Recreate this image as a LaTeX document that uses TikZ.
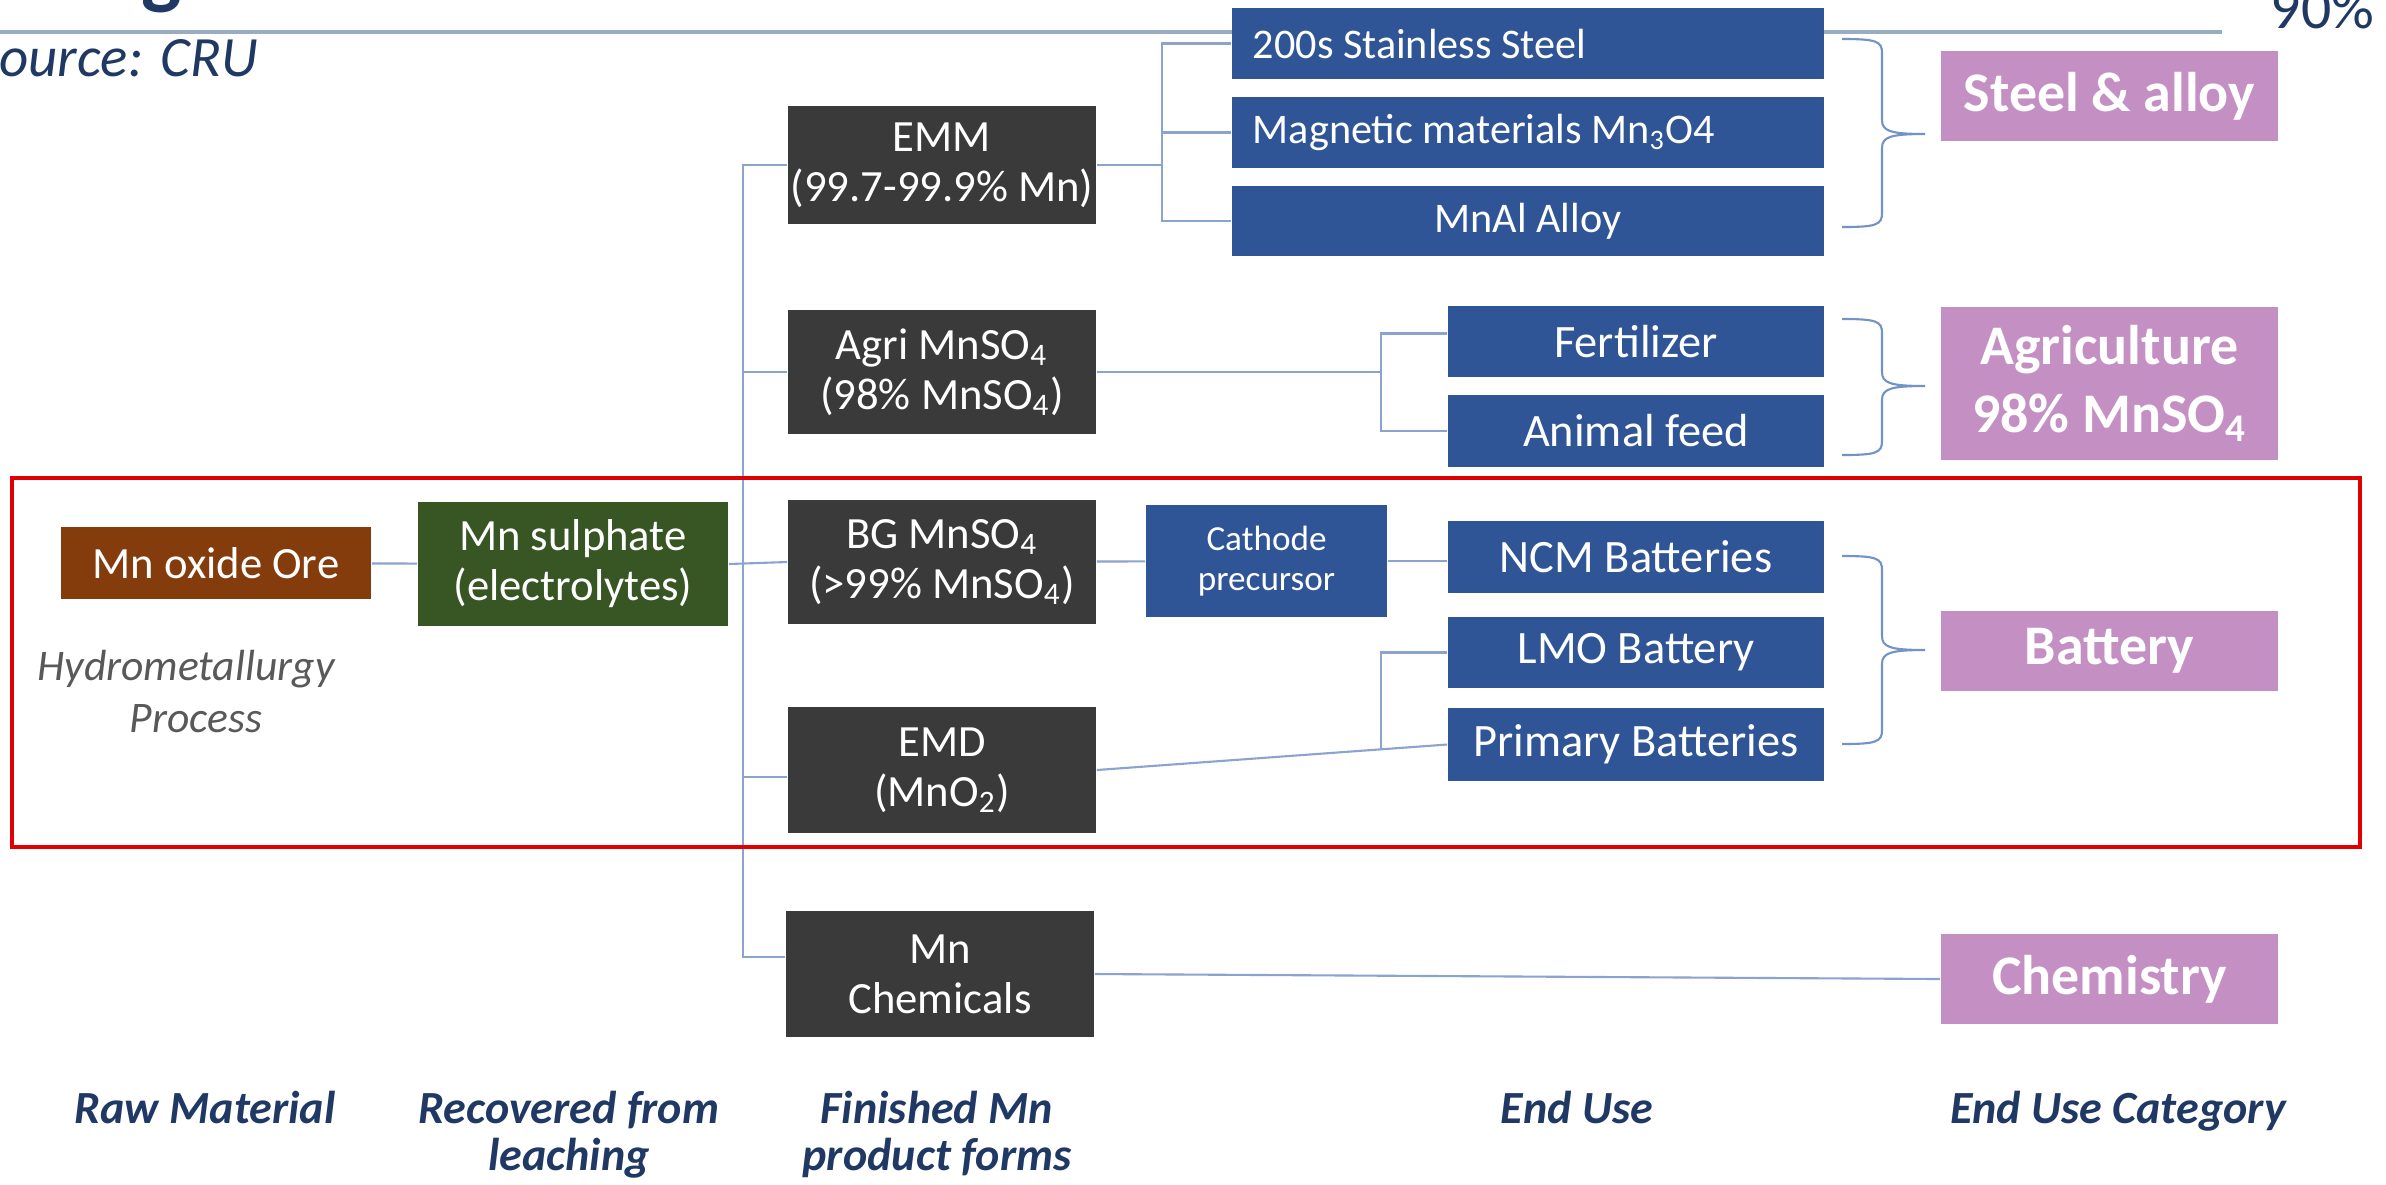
\documentclass[tikz,border=0pt]{standalone}
\usepackage{fontspec}
\setmainfont{Carlito}
\usetikzlibrary{calc}
\definecolor{boxgray}{HTML}{3A3A3A}
\definecolor{bluec}{HTML}{2F5597}
\definecolor{oreb}{HTML}{843C0C}
\definecolor{sulg}{HTML}{375623}
\definecolor{pinkc}{HTML}{C490C4}
\definecolor{connc}{HTML}{8AA4CF}
\definecolor{bracec}{HTML}{7393C4}
\definecolor{tline}{HTML}{9AACC4}
\definecolor{navy}{HTML}{1F3864}
\definecolor{hydc}{HTML}{595959}
\definecolor{redc}{HTML}{E00000}
\newcommand\fBox{\fontsize{12.7}{14.2}\selectfont}
\newcommand\fSteel{\fontsize{12}{14}\selectfont}
\newcommand\fEnd{\fontsize{13.2}{15}\selectfont}
\newcommand\fCath{\fontsize{10}{11.4}\selectfont}
\newcommand\fCat{\bfseries\fontsize{15.9}{19.3}\selectfont}
\newcommand\fLab{\bfseries\itshape\fontsize{13.1}{13.7}\selectfont}
\newcommand\fHyd{\itshape\fontsize{12.4}{14.8}\selectfont}
\newcommand\mybrace[6]{%
  \draw[bracec, line width=0.6pt]
    (#1,#4) .. controls (#2-6,#4) and (#2,#4+2) .. (#2,#4+14)
    -- (#2,#5-14) .. controls (#2,#5-3) and (#2+8,#5) .. (#3,#5)
    .. controls (#2+8,#5) and (#2,#5+3) .. (#2,#5+14)
    -- (#2,#6-14) .. controls (#2,#6-2) and (#2-6,#6) .. (#1,#6);}
\begin{document}
\begin{tikzpicture}[x=0.01cm,y=-0.01cm,
  conn/.style={draw=connc, line width=0.6pt},
  bx/.style={inner sep=0pt, align=flush center, text=white, font=\fBox},
  gbox/.style={bx, fill=boxgray, minimum width=3.08cm, minimum height=1.24cm},
  bbox/.style={bx, fill=bluec},
  ebox/.style={bbox, font=\fEnd, minimum width=3.76cm, minimum height=0.72cm},
  sbox/.style={bbox, font=\fSteel, minimum width=5.92cm, minimum height=0.71cm, text width=5.50cm},
  catbox/.style={inner sep=0pt, align=flush center, fill=pinkc, text=white, font=\fCat, minimum width=3.37cm},
  lab/.style={inner sep=0pt, text=navy, font=\fLab, anchor=base},
  hyd/.style={inner sep=0pt, text=hydc, font=\fHyd, anchor=base}]
\useasboundingbox (0,0) rectangle (2386,1184);
\fill[white] (0,0) rectangle (2386,1184);
% title fragments
\node[inner sep=0pt, anchor=base west, text=navy, font=\bfseries\fontsize{24.2}{28}\selectfont] (title) at (-21,-2) {Manganese Value Chain};
\node[inner sep=0pt, anchor=base west, text=navy, font=\itshape\fontsize{16.2}{19}\selectfont] (source) at (-27,76) {Source: CRU};
\node[inner sep=0pt, anchor=base west, text=navy, font=\fontsize{17}{20}\selectfont] (pct) at (2270,28) {90\%};
\coordinate (tl0) at (0,32);
\coordinate (tl1) at (2222,32);
\draw[tline, line width=0.9pt] (tl0) -- (tl1);
% raw material and sulphate
\node[bx, fill=oreb, minimum width=3.10cm, minimum height=0.72cm] (ore) at (216,563) {Mn oxide Ore};
\node[bx, fill=sulg, minimum width=3.10cm, minimum height=1.24cm] (sulph) at (573,564) {Mn sulphate\\(electrolytes)};
\node[hyd] (hyd1) at (186,680) {Hydrometallurgy};
\node[hyd] (hyd2) at (196,732) {Process};
% finished products
\node[gbox, minimum height=1.18cm] (emm) at (942,165) {EMM\\(99.7-99.9\% Mn)};
\node[gbox] (agri) at (942,372) {Agri MnSO\textsubscript{4}\\(98\% MnSO\textsubscript{4})};
\node[gbox] (bg) at (942,562) {BG MnSO\textsubscript{4}\\(>99\% MnSO\textsubscript{4})};
\node[gbox, minimum height=1.25cm] (emd) at (942,770) {EMD\\(MnO\textsubscript{2})};
\node[gbox, minimum height=1.25cm] (chem) at (940,974) {Mn\\Chemicals};
% end uses
\node[sbox, align=flush left] (ss200) at (1528,43.5) {200s Stainless Steel};
\node[sbox, align=flush left] (mag) at (1528,132.5) {Magnetic materials Mn\textsubscript{3}O4};
\node[sbox, align=flush center, minimum height=0.70cm] (mnal) at (1528,221) {MnAl Alloy};
\node[ebox, minimum height=0.71cm] (fert) at (1636,341.5) {Fertilizer};
\node[ebox] (feed) at (1636,431) {Animal feed};
\node[bbox, font=\fCath, minimum width=2.41cm, minimum height=1.12cm] (cath) at (1266.5,561) {Cathode\\precursor};
\node[ebox] (ncm) at (1636,557) {NCM Batteries};
\node[ebox, minimum height=0.71cm] (lmo) at (1636,652.5) {LMO Battery};
\node[ebox, minimum height=0.73cm] (prim) at (1636,744.5) {Primary Batteries};
% categories
\node[catbox, minimum height=0.90cm] (steelcat) at (2109.5,96) {Steel \& alloy};
\node[catbox, minimum height=1.53cm] (agricat) at (2109.5,383.5) {Agriculture\\98\% MnSO\textsubscript{4}};
\node[catbox, minimum height=0.80cm] (batcat) at (2109.5,651) {Battery};
\node[catbox, minimum height=0.90cm] (chemcat) at (2109.5,979) {Chemistry};
% bottom labels
\node[lab] (l1) at (205,1123) {Raw Material};
\node[lab] (l2a) at (569,1123) {Recovered from};
\node[lab] (l2b) at (569,1170) {leaching};
\node[lab] (l3a) at (937,1123) {Finished Mn};
\node[lab] (l3b) at (937,1170) {product forms};
\node[lab] (l4) at (1577,1123) {End Use};
\node[lab] (l5) at (2118,1123) {End Use Category};
% connectors
\coordinate (bus) at (743,0);
\coordinate (sbus) at (1162,0);
\coordinate (afork) at (1381,0);
\draw[conn] (ore) -- (sulph);
\draw[conn] (sulph.east) -- (bg.west);
\draw[conn] (emm.west) -- (emm.west -| bus) -- ($(chem.west -| bus)+(0,-17)$) -- ($(chem.west)+(0,-17)$);
\draw[conn] (agri.west -| bus) -- (agri.west);
\draw[conn] ($(emd.west -| bus)+(0,7)$) -- ($(emd.west)+(0,7)$);
\draw[conn] (emm.east) -- (emm.east -| sbus);
\draw[conn] (ss200.west) -- (ss200.west -| sbus) -- (mnal.west -| sbus) -- (mnal.west);
\draw[conn] (mag.west -| sbus) -- (mag.west);
\draw[conn] (agri.east) -- (agri.east -| afork);
\draw[conn] ($(fert.west)+(0,-8)$) -- ($(fert.west -| afork)+(0,-8)$) -- (feed.west -| afork) -- (feed.west);
\draw[conn] (bg) -- (cath);
\draw[conn] (cath.east) -- (cath.east -| ncm.west);
\draw[conn] (emd.east) -- (prim.west);
\coordinate (f3) at ($(emd.east)!0.81!(prim.west)$);
\draw[conn] (f3) |- (lmo.west);
\draw[conn] (chem.east) -- (chemcat.west);
% braces
\mybrace{1842}{1882}{1925}{39}{134}{227}
\mybrace{1842}{1882}{1925}{319}{386}{455}
\mybrace{1842}{1882}{1925}{556}{650}{744}
% red frame
\draw[redc, line width=1.2pt] (12,478) rectangle (2360,847);
\end{tikzpicture}
\end{document}
